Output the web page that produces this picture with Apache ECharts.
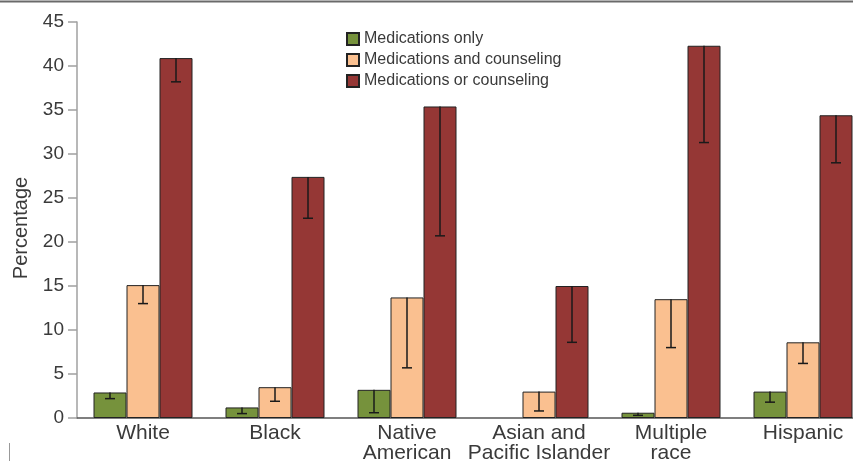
<!DOCTYPE html>
<html>
<head>
<meta charset="utf-8">
<script src="https://cdn.jsdelivr.net/npm/echarts@6/dist/echarts.min.js"></script>
<style>
  html, body { margin: 0; padding: 0; background: #fff; }
  #chart { width: 853px; height: 461px; }
</style>
</head>
<body>
<div id="chart"></div>
<script>
// data (percent), lower = lower end of the error bar
var categories = ["White", "Black", "Native\nAmerican", "Asian and\nPacific Islander", "Multiple\nrace", "Hispanic"];
var medsOnly = [2.9, 1.2, 3.2, null, 0.6, 3.0];
var medsOnlyLow = [2.2, 0.5, 0.6, null, 0.3, 1.8];
var medsAndCouns = [15.1, 3.5, 13.7, 3.0, 13.5, 8.6];
var medsAndCounsLow = [13.0, 1.9, 5.7, 0.8, 8.0, 6.2];
var medsOrCouns = [40.9, 27.4, 35.4, 15.0, 42.3, 34.4];
var medsOrCounsLow = [38.2, 22.7, 20.7, 8.6, 31.3, 29.0];
var seriesNames = ["Medications only", "Medications and counseling", "Medications or counseling"];
var colors = ["#76923c", "#fac090", "#953735"];

var font = "'Liberation Sans', Helvetica, Arial, sans-serif";
var myChart = echarts.init(document.getElementById("chart"));

function errData(vals, lows) {
  var out = [];
  vals.forEach(function (v, i) {
    if (v != null) out.push([i, v, lows[i]]);
  });
  return out;
}

// only the lower whisker is drawn in the original
function errRender(k) {
  return function (params, api) {
    var band = api.size([1, 0])[0];
    var dx = k * band * 0.25;
    var top = api.coord([api.value(0), api.value(1)]);
    var bot = api.coord([api.value(0), api.value(2)]);
    var x = top[0] + dx;
    var st = { stroke: "#1a1a1a", lineWidth: 1.5 };
    return {
      type: "group",
      children: [
        { type: "line", shape: { x1: x, y1: top[1], x2: x, y2: bot[1] }, style: st },
        { type: "line", shape: { x1: x - 5, y1: bot[1], x2: x + 5, y2: bot[1] }, style: st }
      ]
    };
  };
}

var barStyle = function (c) {
  return { color: c, borderColor: "#222", borderWidth: 1 };
};

var option = {
  animation: false,
  // the last group runs past the right edge in the original
  grid: { left: 77, top: 22, width: 792, height: 396, outerBoundsMode: "none" },
  legend: {
    orient: "vertical",
    left: 341,
    top: 26,
    itemWidth: 12,
    itemHeight: 12,
    itemGap: 5,
    icon: "rect",
    data: seriesNames,
    textStyle: { fontFamily: font, fontSize: 16, color: "#3a3a3a", lineHeight: 16 }
  },
  xAxis: {
    type: "category",
    data: categories,
    axisTick: { show: false },
    axisLine: { lineStyle: { color: "#555", width: 1.5 } },
    axisLabel: { fontFamily: font, fontSize: 21, color: "#3a3a3a", lineHeight: 20, margin: 5, interval: 0 }
  },
  yAxis: {
    type: "value",
    min: 0,
    max: 45,
    interval: 5,
    name: "Percentage",
    nameLocation: "middle",
    nameGap: 44,
    nameTextStyle: { fontFamily: font, fontSize: 20, color: "#3a3a3a", padding: [0, 16, 0, 0] },
    splitLine: { show: false },
    axisLine: { show: true, lineStyle: { color: "#a0a0a0", width: 1.5 } },
    axisTick: { show: true, length: 9, lineStyle: { color: "#a0a0a0", width: 1.5 } },
    axisLabel: { fontFamily: font, fontSize: 19, color: "#3a3a3a", margin: 13 }
  },
  series: [
    { name: seriesNames[0], type: "bar", data: medsOnly, barWidth: "25%", barGap: "0%", itemStyle: barStyle(colors[0]) },
    { name: seriesNames[1], type: "bar", data: medsAndCouns, barWidth: "25%", barGap: "0%", itemStyle: barStyle(colors[1]) },
    { name: seriesNames[2], type: "bar", data: medsOrCouns, barWidth: "25%", barGap: "0%", itemStyle: barStyle(colors[2]) },
    { type: "custom", renderItem: errRender(-1), data: errData(medsOnly, medsOnlyLow), encode: { x: 0, y: [1, 2] }, z: 10 },
    { type: "custom", renderItem: errRender(0), data: errData(medsAndCouns, medsAndCounsLow), encode: { x: 0, y: [1, 2] }, z: 10 },
    { type: "custom", renderItem: errRender(1), data: errData(medsOrCouns, medsOrCounsLow), encode: { x: 0, y: [1, 2] }, z: 10 }
  ],
  graphic: [
    { type: "line", shape: { x1: 0, y1: 1.5, x2: 853, y2: 1.5 }, style: { stroke: "#6a6a6a", lineWidth: 2 } },
    { type: "line", shape: { x1: 9.5, y1: 443, x2: 9.5, y2: 461 }, style: { stroke: "#999", lineWidth: 1 } }
  ]
};

myChart.setOption(option);
</script>
</body>
</html>
